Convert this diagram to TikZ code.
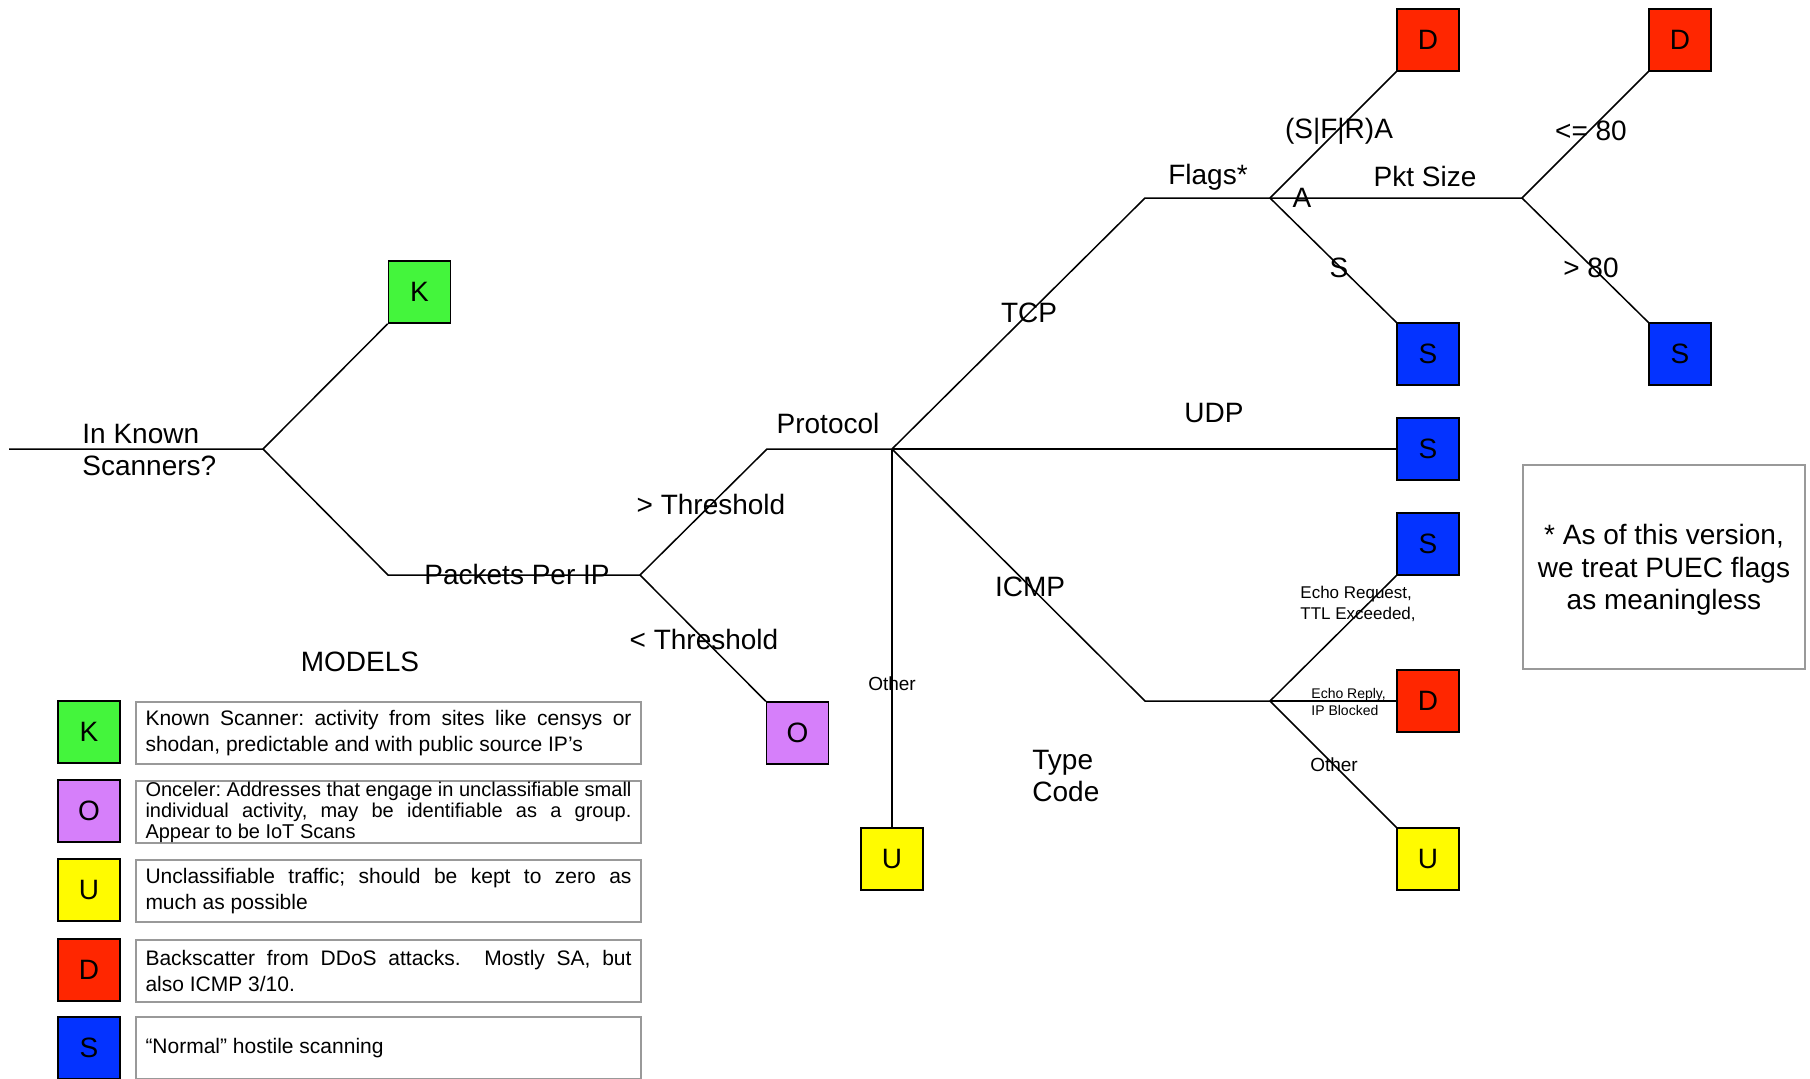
\documentclass[tikz,border=0pt]{standalone}
\usepackage{fontspec}
\setmainfont{Liberation Sans}
\definecolor{kgreen}{RGB}{68,245,60}
\definecolor{oviolet}{RGB}{214,127,250}
\definecolor{uyellow}{RGB}{255,251,0}
\definecolor{dred}{RGB}{255,38,0}
\definecolor{sblue}{RGB}{4,51,255}
\tikzset{
    leaf/.style={rectangle,draw=black,line width=0.75pt,minimum size=31pt,inner sep=0pt,font=\fontsize{14}{16}\selectfont},
    lbl/.style={font=\fontsize{14}{16}\selectfont,align=left,inner sep=0pt},
    smalllbl/.style={font=\fontsize{9.5}{11}\selectfont,inner sep=0pt},
    echolbl/.style={font=\fontsize{8.5}{10.4}\selectfont,align=left,inner sep=0pt,anchor=west},
    replylbl/.style={font=\fontsize{7}{8.7}\selectfont,align=left,inner sep=0pt,anchor=west},
    descbox/.style={rectangle,draw=black!40,line width=1pt,text width=243pt,minimum height=31pt,inner xsep=4.7pt,inner ysep=0pt,align=justify,font=\fontsize{10.5}{12.7}\selectfont\frenchspacing},
    branch/.style={line width=0.75pt}
}
\begin{document}
\begin{tikzpicture}[x=0.5pt,y=-0.5pt]
    \useasboundingbox (0,0) rectangle (1810,1078);

    \coordinate (start) at (9,449);
    \coordinate (known) at (263,449);
    \coordinate (ppi) at (388,575);
    \coordinate (ppisplit) at (640,575);
    \coordinate (proto) at (767,449);
    \coordinate (protosplit) at (892,449);
    \coordinate (tcp) at (1145,198);
    \coordinate (flags) at (1270,198);
    \coordinate (pkt) at (1522,198);
    \coordinate (icmp) at (1145,701);
    \coordinate (type) at (1270,701);

    \node (k) at (419.5,292) [leaf,fill=kgreen] {K};
    \node (o) at (797.5,733) [leaf,fill=oviolet] {O};
    \node (uother) at (892,859) [leaf,fill=uyellow] {U};
    \node (dflag) at (1428,40) [leaf,fill=dred] {D};
    \node (sflag) at (1428,354) [leaf,fill=sblue] {S};
    \node (dpkt) at (1680,40) [leaf,fill=dred] {D};
    \node (spkt) at (1680,354) [leaf,fill=sblue] {S};
    \node (sudp) at (1428,449) [leaf,fill=sblue] {S};
    \node (secho) at (1428,544) [leaf,fill=sblue] {S};
    \node (dreply) at (1428,701) [leaf,fill=dred] {D};
    \node (uicmp) at (1428,859) [leaf,fill=uyellow] {U};

    \draw[branch] (start) -- (known) -- (k.south west);
    \draw[branch] (known) -- (ppi) -- (ppisplit) -- (proto) -- (protosplit);
    \draw[branch] (ppisplit) -- (o.north west);
    \draw[branch] (protosplit) -- (tcp) -- (flags) -- (dflag.south west);
    \draw[branch] (flags) -- (sflag.north west);
    \draw[branch] (flags) -- (pkt) -- (dpkt.south west);
    \draw[branch] (pkt) -- (spkt.north west);
    \draw[branch] (protosplit) -- (sudp);
    \draw[branch] (protosplit) -- (uother);
    \draw[branch] (protosplit) -- (icmp) -- (type) -- (secho.south west);
    \draw[branch] (type) -- (dreply);
    \draw[branch] (type) -- (uicmp.north west);

    \node (inknown) at (82,450) [lbl,anchor=west] {In Known\\Scanners?};
    \node (ppilbl) at (517,574) [lbl] {Packets Per IP};
    \node (gtthr) at (711,504) [lbl] {> Threshold};
    \node (ltthr) at (704,639) [lbl] {< Threshold};
    \node (protolbl) at (828,423) [lbl] {Protocol};
    \node (tcplbl) at (1029,313) [lbl] {TCP};
    \node (udplbl) at (1214,413) [lbl] {UDP};
    \node (icmplbl) at (1030,587) [lbl] {ICMP};
    \node (otherlbl) at (892,684) [smalllbl] {Other};
    \node (typelbl) at (1032,776) [lbl,anchor=west] {Type\\Code};
    \node (flagslbl) at (1208,177) [lbl] {Flags*};
    \node (sfralbl) at (1339,131) [lbl] {(S|F|R)A};
    \node (albl) at (1302,198) [lbl] {A};
    \node (slbl) at (1339,268) [lbl] {S};
    \node (pktlbl) at (1425,176) [lbl] {Pkt Size};
    \node (lelbl) at (1591,131) [lbl] {<= 80};
    \node (gtlbl) at (1591,268) [lbl] {> 80};
    \node (echolbl) at (1300,604) [echolbl] {Echo Request,\\TTL Exceeded,};
    \node (replylbl) at (1311,702) [replylbl] {Echo Reply,\\IP Blocked};
    \node (othericmp) at (1334,765) [smalllbl] {Other};

    \node (note) at (1664,567) [lbl,rectangle,draw=black!40,line width=1pt,minimum width=141pt,minimum height=102pt,align=center,text depth=0pt,font=\fontsize{14}{16.3}\selectfont] {* As of this version,\\we treat PUEC flags\\as meaningless};

    \node (models) at (360,662) [lbl] {MODELS};
    \node (lk) at (89,732) [leaf,fill=kgreen] {K};
    \node (lo) at (89,811) [leaf,fill=oviolet] {O};
    \node (lu) at (89,890) [leaf,fill=uyellow] {U};
    \node (ld) at (89,970) [leaf,fill=dred] {D};
    \node (ls) at (89,1048) [leaf,fill=sblue] {S};
    \node (lktext) at (388.5,733) [descbox] {Known Scanner: activity from sites like censys or\linebreak shodan, predictable and with public source IP’s};
    \node (lotext) at (388.5,812) [descbox,font=\fontsize{10}{10.5}\selectfont\frenchspacing] {Onceler: Addresses that engage in unclassifiable small\linebreak individual activity, may be identifiable as a group.\linebreak Appear to be IoT Scans};
    \node (lutext) at (388.5,891) [descbox] {Unclassifiable traffic; should be kept to zero as\linebreak much as possible};
    \node (ldtext) at (388.5,971) [descbox] {Backscatter from DDoS attacks.\ \ Mostly SA, but\linebreak also ICMP 3/10.};
    \node (lstext) at (388.5,1048) [descbox] {“Normal” hostile scanning};
\end{tikzpicture}
\end{document}
